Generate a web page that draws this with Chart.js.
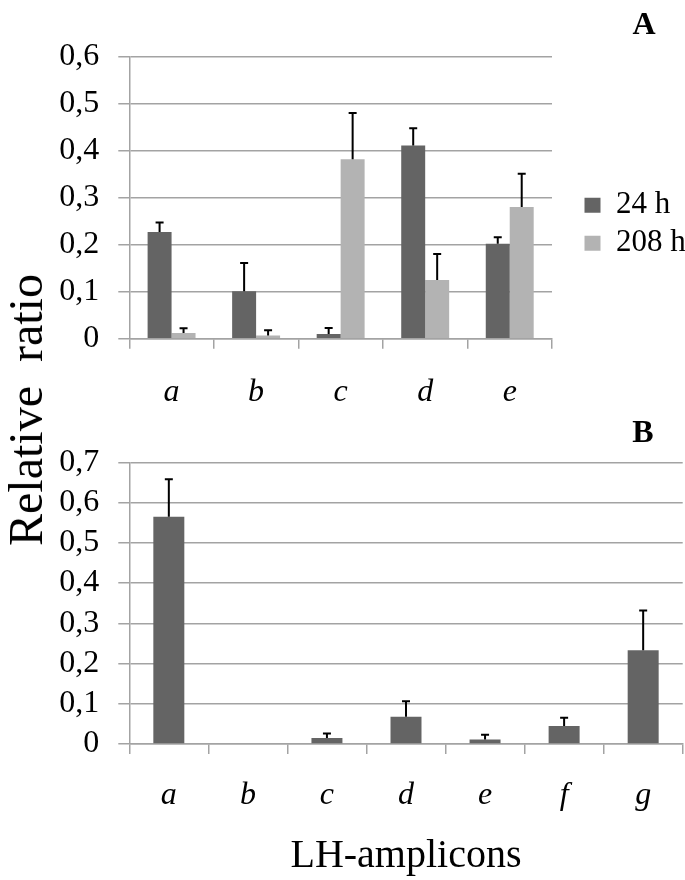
<!DOCTYPE html>
<html>
<head>
<meta charset="utf-8">
<script src="https://cdn.jsdelivr.net/npm/chart.js@4"></script>
<style>
  body { margin: 0; background: #fff; }
  #wrap { position: relative; width: 685px; height: 880px; overflow: hidden; }
  canvas { position: absolute; left: 0; }
  #graficoA { top: 0; }
  #graficoB { top: 420px; }
  .painel { position: absolute; font: bold 32px "Liberation Serif", serif; transform: translate(-50%, -50%); }
  #tituloY {
    position: absolute; left: 26px; top: 410px;
    font: 48px/48px "Liberation Serif", serif; white-space: pre;
    transform: translate(-50%, -50%) rotate(-90deg);
  }
</style>
</head>
<body>
<div id="wrap">
  <canvas id="graficoA" width="685" height="450"></canvas>
  <canvas id="graficoB" width="685" height="460"></canvas>
  <div class="painel" style="left:644px; top:23px;">A</div>
  <div class="painel" style="left:643px; top:431px;">B</div>
  <div id="tituloY">Relative  ratio</div>
</div>
<script>
// dados
const categoriasA = ['a', 'b', 'c', 'd', 'e'];
const nomesSeries = ['24 h', '208 h'];
const valores24h = [0.227, 0.101, 0.010, 0.411, 0.202];
const erros24h = [0.020, 0.060, 0.013, 0.037, 0.014];
const valores208h = [0.012, 0.007, 0.382, 0.125, 0.280];
const erros208h = [0.010, 0.011, 0.098, 0.055, 0.071];
const ticksA = ['0', '0,1', '0,2', '0,3', '0,4', '0,5', '0,6'];

const categoriasB = ['a', 'b', 'c', 'd', 'e', 'f', 'g'];
const valoresB = [0.565, 0, 0.015, 0.068, 0.011, 0.045, 0.233];
const errosB = [0.093, 0, 0.011, 0.038, 0.012, 0.020, 0.099];
const ticksB = ['0', '0,1', '0,2', '0,3', '0,4', '0,5', '0,6', '0,7'];
const tituloX = 'LH-amplicons';

const corEscura = '#646464';
const corClara = '#b3b3b3';
const corGrade = '#a3a3a3';
const fonte = '"Liberation Serif", serif';
const padDireitaA = -8;

Chart.defaults.color = '#000';
Chart.defaults.font.family = fonte;

// barras de erro (so para cima)
const barrasErro = {
    id: 'barrasErro',
    afterDatasetsDraw(chart) {
        const ctx = chart.ctx;
        const y = chart.scales.y;
        chart.data.datasets.forEach((ds, di) => {
            const meta = chart.getDatasetMeta(di);
            meta.data.forEach((bar, i) => {
                const err = ds.erros[i];
                if (!err) return;
                const topo = y.getPixelForValue(ds.data[i] + err);
                ctx.save();
                ctx.strokeStyle = '#000';
                ctx.lineWidth = 2;
                ctx.beginPath();
                ctx.moveTo(bar.x, bar.y);
                ctx.lineTo(bar.x, topo);
                ctx.moveTo(bar.x - 4, topo);
                ctx.lineTo(bar.x + 4, topo);
                ctx.stroke();
                ctx.restore();
            });
        });
    }
};

function eixoY(max, rotulos) {
    return {
        min: 0,
        max: max,
        ticks: {
            stepSize: 0.1,
            autoSkip: false,
            padding: 19,
            font: { size: 32 },
            callback: (v) => rotulos[Math.round(v * 10)]
        },
        grid: { color: corGrade, lineWidth: 1.5, tickLength: 11 },
        border: { color: corGrade, width: 1.5 },
        afterFit: (s) => { s.width = 129.3; }
    };
}

function eixoX(altura, pad) {
    return {
        grid: { drawOnChartArea: false, color: corGrade, lineWidth: 1.5, tickLength: 10 },
        border: { color: corGrade, width: 1.5 },
        ticks: { padding: pad, autoSkip: false, font: { size: 32, style: 'italic' } },
        afterFit: (s) => { s.height = altura; }
    };
}

const graficoA = new Chart(document.getElementById('graficoA'), {
    type: 'bar',
    data: {
        labels: categoriasA,
        datasets: [{
            label: nomesSeries[0],
            data: valores24h,
            erros: erros24h,
            backgroundColor: corEscura
        }, {
            label: nomesSeries[1],
            data: valores208h,
            erros: erros208h,
            backgroundColor: corClara
        }]
    },
    options: {
        responsive: false,
        animation: false,
        layout: { padding: { top: 56.7, left: 0, right: padDireitaA, bottom: 0 } },
        datasets: { bar: { categoryPercentage: 0.567, barPercentage: 1 } },
        plugins: {
            legend: {
                position: 'right',
                align: 'start',
                // titulo vazio so para empurrar a legenda para baixo
                title: { display: true, text: ' ', font: { size: 10 }, padding: { top: 114, bottom: 0 } },
                labels: { boxWidth: 16, boxHeight: 15, padding: 7, font: { size: 31 } }
            },
            tooltip: { enabled: false }
        },
        scales: {
            x: eixoX(111.3, 25),
            y: eixoY(0.6, ticksA),
            espaco: {
                type: 'linear',
                position: 'right',
                grid: { display: false },
                ticks: { display: false },
                border: { display: false },
                afterFit: (s) => { s.width = Math.max(0, s.chart.width - padDireitaA - s.chart.legend.width - 552); }
            }
        }
    },
    plugins: [barrasErro]
});

const graficoB = new Chart(document.getElementById('graficoB'), {
    type: 'bar',
    data: {
        labels: categoriasB,
        datasets: [{
            label: 'B',
            data: valoresB,
            erros: errosB,
            backgroundColor: corEscura
        }]
    },
    options: {
        responsive: false,
        animation: false,
        layout: { padding: { top: 42.3, left: 0, right: 2.3, bottom: 0 } },
        datasets: { bar: { categoryPercentage: 0.392, barPercentage: 1 } },
        plugins: {
            legend: { display: false },
            tooltip: { enabled: false }
        },
        scales: {
            x: Object.assign(eixoX(136, 22), {
                title: { display: true, text: tituloX, font: { size: 40 }, padding: { top: 0, bottom: 0 } }
            }),
            y: eixoY(0.7, ticksB)
        }
    },
    plugins: [barrasErro]
});
</script>
</body>
</html>
